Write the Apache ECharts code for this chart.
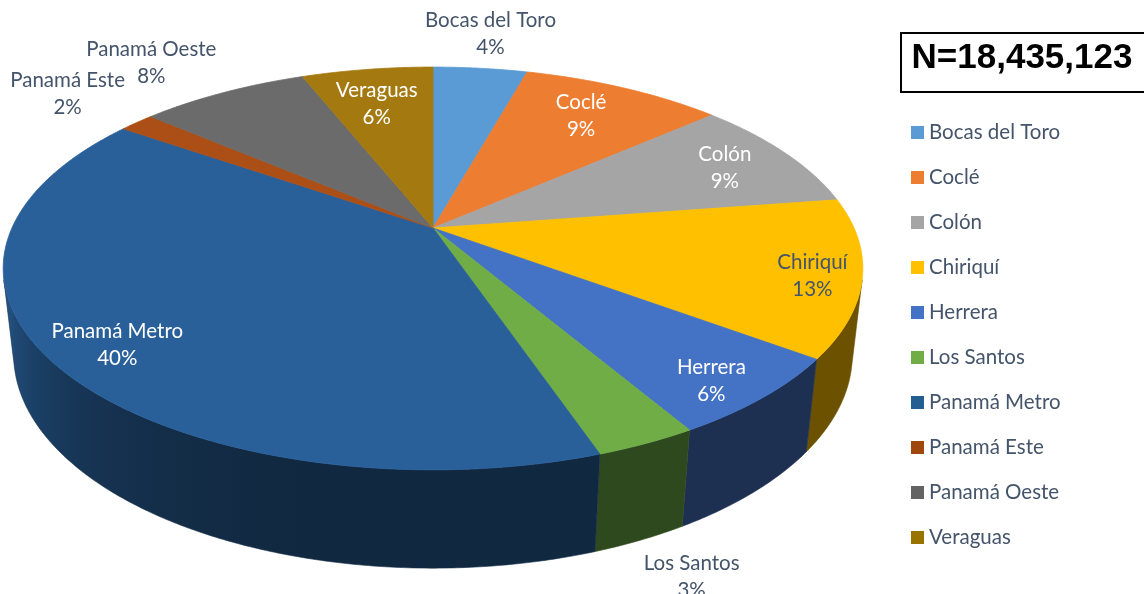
<!DOCTYPE html>
<html><head><meta charset="utf-8">
<script src="https://cdn.jsdelivr.net/npm/echarts@6/dist/echarts.min.js"></script>
<style>html,body{margin:0;padding:0;background:#fff}#c{width:1144px;height:594px}</style>
</head><body><div id="c"></div>
<script>
// ---- data ----
const categories = ['Bocas del Toro','Coclé','Colón','Chiriquí','Herrera','Los Santos','Panamá Metro','Panamá Este','Panamá Oeste','Veraguas'];
const shares = [4.3, 9.2, 9.1, 12.6, 6.4, 3.2, 39.9, 1.6, 7.7, 6.0];
const totalLabel = 'N=18,435,123';

// ---- style ----
const legendColors = ['#5B9BD5','#ED7D31','#A5A5A5','#FFC000','#4472C4','#70AD47','#255E91','#9E480E','#636363','#997300'];
const topColors    = ['#5B9BD5','#ED7D31','#A5A5A5','#FFC000','#4472C4','#70AD47','#29609A','#AC4F16','#6B6B6B','#A47A10'];
const labelColors  = ['#44546A','#FFFFFF','#FFFFFF','#44546A','#FFFFFF','#44546A','#FFFFFF','#44546A','#44546A','#FFFFFF'];
const labelRadius  = [1.27, 0.77, 0.81, 0.89, 0.89, 1.40, 0.86, 1.29, 1.31, 0.75];
const labelShift   = [0, -0.9, 0.9, 1.2, 1.9, 5.7, -2.1, 0.8, -2.6, -1.0];
const FONT = 'Lato';
const FS = 20.5;

// perspective model of the tilted disc
const P = {cx:433, cy:228, F:1861, D:4.42, s:0.459, c:0.888, h:0.232};
const VIS0 = Math.acos(-1/(P.D*P.c))*180/Math.PI;   // visible wall start
const VIS1 = 360 - VIS0;

function proj(theta, r, w){
  const t = theta*Math.PI/180;
  const u = r*Math.sin(t), v = -r*Math.cos(t);
  const z = P.D - v*P.c - w*P.s;
  return [P.cx + P.F*u/z, P.cy + P.F*(v*P.s - w*P.c)/z];
}
function hexRgb(h){ return [parseInt(h.slice(1,3),16),parseInt(h.slice(3,5),16),parseInt(h.slice(5,7),16)]; }
function shade(h,f){ const c=hexRgb(h).map(x=>Math.max(0,Math.min(255,Math.round(x*f)))); return 'rgb('+c.join(',')+')'; }
function sideShade(theta){ const t=Math.min(1,Math.max(0,(theta-190)/65)); return 0.42+0.42*t*t; }

const total = shares.reduce((a,b)=>a+b,0);

function renderItem(params, api){
  const i = params.dataIndex;
  let cum = 0; for (let k=0;k<i;k++) cum += shares[k];
  const val = api.value(0);
  const a1 = cum/total*360, a2 = (cum+val)/total*360;
  const children = [];
  // side wall
  const lo = Math.max(a1, VIS0), hi = Math.min(a2, VIS1);
  if (hi > lo){
    const n = Math.max(2, Math.ceil((hi-lo)/0.5));
    const pts = [];
    for (let k=0;k<=n;k++) pts.push(proj(lo+(hi-lo)*k/n,1,0));
    for (let k=n;k>=0;k--) pts.push(proj(lo+(hi-lo)*k/n,1,-P.h));
    const xs = pts.map(p=>p[0]); const xmin=Math.min(...xs), xmax=Math.max(...xs);
    const stops = [];
    for (let k=0;k<=12;k++){
      const th = lo+(hi-lo)*k/12; const px = proj(th,1,-P.h*0.5)[0];
      stops.push({offset: Math.min(1,Math.max(0,(px-xmin)/Math.max(1,xmax-xmin))), color: shade(topColors[i], sideShade(th))});
    }
    stops.sort((a,b)=>a.offset-b.offset);
    children.push({type:'polygon', z2:1, shape:{points:pts},
      style:{fill:{type:'linear',x:0,y:0,x2:1,y2:0,colorStops:stops}, stroke:shade(topColors[i],sideShade((lo+hi)/2)), lineWidth:0.6}});
  }
  // top face
  const n2 = Math.max(2, Math.ceil((a2-a1)/0.5));
  const tp = [[P.cx,P.cy]];
  for (let k=0;k<=n2;k++) tp.push(proj(a1+(a2-a1)*k/n2,1,0));
  children.push({type:'polygon', z2:2, shape:{points:tp}, style:{fill:topColors[i], stroke:topColors[i], lineWidth:0.8}});
  // label
  const mid = (a1+a2)/2 + labelShift[i];
  const lp = proj(mid, labelRadius[i], 0);
  const pct = Math.round(val/total*100);
  children.push({type:'text', z2:3, x:lp[0], y:lp[1], style:{text: categories[i]+'\n'+pct+'%', fill:labelColors[i],
    fontSize:FS, fontFamily:FONT, align:'center', verticalAlign:'middle', lineHeight:27}});
  return {type:'group', children};
}

const chart = echarts.init(document.getElementById('c'), null, {renderer:'canvas'});
chart.setOption({
  animation:false,
  backgroundColor:'#ffffff',
  legend:{orient:'vertical', left:911, top:122, padding:0, itemWidth:13, itemHeight:13, itemGap:24, icon:'rect',
    textStyle:{fontFamily:FONT, fontSize:FS, color:'#44546A'}, data:categories, selectedMode:false},
  series:[
    {type:'custom', name:'regiones', coordinateSystem:'none', renderItem:renderItem,
      data: shares.map((v,i)=>({name:categories[i], value:[v]})), silent:true},
    {type:'pie', name:'legend', center:[-600,-600], radius:1, silent:true, label:{show:false}, labelLine:{show:false},
      data: shares.map((v,i)=>({name:categories[i], value:v, itemStyle:{color:legendColors[i]}}))}
  ],
  graphic:[
    {type:'rect', shape:{x:901, y:33, width:270, height:59}, style:{fill:'#fff', stroke:'#000', lineWidth:2}},
    {type:'text', x:1022, y:58, style:{text:totalLabel, fill:'#000', font:'bold 35px "Liberation Sans"', align:'center', verticalAlign:'middle'}}
  ]
});
</script></body></html>
